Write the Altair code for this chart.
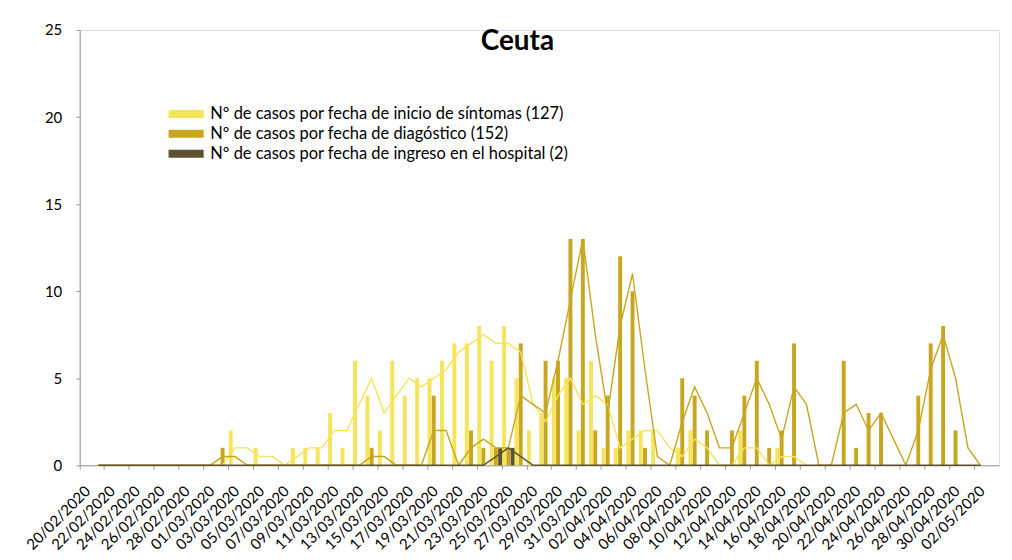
import altair as alt
import pandas as pd

# Categories: one per day, 20/02/2020 .. 03/05/2020
dates = list(pd.date_range("2020-02-20", "2020-05-03").strftime("%d/%m/%Y"))

# Nº de casos por fecha de inicio de síntomas (idx 0..58)
symptoms = [0, 0, 0, 0, 0, 0, 0, 0, 0, 0,
            0, 0, 2, 0, 1, 0, 0, 1, 1, 1,
            3, 1, 6, 4, 2, 6, 4, 5, 5, 6,
            7, 7, 8, 6, 8, 5, 2, 3, 5, 5,
            2, 6, 1, 1, 2, 2, 2, 0, 1, 2,
            0, 0, 0, 2, 0, 0, 1, 0, 0]

# Nº de casos por fecha de diagnóstico (idx 0..72)
diagnosis = [0, 0, 0, 0, 0, 0, 0, 0, 0, 0,
             0, 1, 0, 0, 0, 0, 0, 0, 0, 0,
             0, 0, 0, 1, 0, 0, 0, 0, 4, 0,
             0, 2, 1, 1, 1, 7, 0, 6, 6, 13,
             13, 2, 4, 12, 10, 1, 0, 0, 5, 4,
             2, 0, 2, 4, 6, 1, 2, 7, 0, 0,
             0, 6, 1, 3, 3, 0, 0, 4, 7, 8,
             2, 0, 0]

# Nº de casos por fecha de ingreso en el hospital (idx 0..72)
hospital = [0, 0, 0, 0, 0, 0, 0, 0, 0, 0,
            0, 0, 0, 0, 0, 0, 0, 0, 0, 0,
            0, 0, 0, 0, 0, 0, 0, 0, 0, 0,
            0, 0, 0, 1, 1, 0, 0, 0, 0, 0,
            0, 0, 0, 0, 0, 0, 0, 0, 0, 0,
            0, 0, 0, 0, 0, 0, 0, 0, 0, 0,
            0, 0, 0, 0, 0, 0, 0, 0, 0, 0,
            0, 0, 0]

series_names = [
    "Nº de casos por fecha de inicio de síntomas (127)",
    "Nº de casos por fecha de diagóstico (152)",
    "Nº de casos por fecha de ingreso en el hospital (2)",
]
colors = ["#F6E45B", "#C9A61F", "#5C5130"]
y_ticks = [0, 5, 10, 15, 20, 25]

rows = []
for k, (name, vals) in enumerate(zip(series_names, [symptoms, diagnosis, hospital])):
    for i, v in enumerate(vals):
        rows.append({"date": dates[i], "idx": i, "series": name, "k": k, "value": v})
df = pd.DataFrame(rows)

FONT = "Lato"
AXIS_GRAY = "#9a9a9a"

x_axis = alt.Axis(
    values=dates[::2], labelAngle=-45, labelAlign="right", labelBaseline="top",
    bandPosition=0, labelOffset=-3, labelPadding=14, tickSize=4,
    tickColor=AXIS_GRAY, domainColor=AXIS_GRAY, labelFont=FONT, labelFontSize=15,
    labelColor="black", grid=False, title=None,
)
x_scale = alt.Scale(domain=dates, paddingInner=0, paddingOuter=0)
y_axis = alt.Axis(
    values=y_ticks, tickSize=4, tickColor=AXIS_GRAY, domainColor=AXIS_GRAY,
    labelFont=FONT, labelFontSize=15, labelColor="black", labelPadding=14,
    grid=False, title=None,
)
y_scale = alt.Scale(domain=[0, 25], nice=False)
color_scale = alt.Scale(domain=series_names, range=colors)

legend = alt.Legend(
    orient="none", legendX=85, legendY=76, title=None,
    symbolType="M-4.4,-1H4.4V1H-4.4Z", symbolSize=64, symbolStrokeWidth=0,
    symbolOpacity=1, symbolOffset=13.6, labelFont=FONT, labelFontSize=16.5,
    labelColor="black", labelLimit=0, rowPadding=3, labelOffset=16, padding=0,
)

bars = alt.Chart(df).mark_bar().encode(
    x=alt.X("date:N", scale=x_scale, axis=x_axis, sort=dates),
    xOffset=alt.XOffset("series:N", sort=series_names,
                        scale=alt.Scale(domain=series_names, paddingInner=0.08, paddingOuter=0)),
    y=alt.Y("value:Q", scale=y_scale, axis=y_axis),
    color=alt.Color("series:N", scale=color_scale, legend=legend),
)

lines = alt.Chart(df).transform_window(
    ma="mean(value)", frame=[-1, 0], groupby=["series"], sort=[alt.SortField("idx")]
).transform_filter("datum.idx > 0").mark_line(strokeWidth=1.4).encode(
    x=alt.X("date:N", scale=x_scale, axis=x_axis, sort=dates),
    y=alt.Y("ma:Q", scale=y_scale, axis=y_axis),
    color=alt.Color("series:N", scale=color_scale, legend=None),
    order=alt.Order("idx:Q"),
)

chart = alt.layer(bars, lines).properties(
    width=923, height=437,
    autosize=alt.AutoSizeParams(type="none"),
    padding={"left": 72, "top": 21, "right": 5, "bottom": 88},
    title=alt.TitleParams("Ceuta", font=FONT, fontSize=28, fontWeight="bold",
                          color="black", anchor="middle", offset=0, dx=-22, dy=33),
).configure_view(stroke=None).configure(background="white")

chart.save("out.html", embed_options={"renderer": "svg", "actions": False})
